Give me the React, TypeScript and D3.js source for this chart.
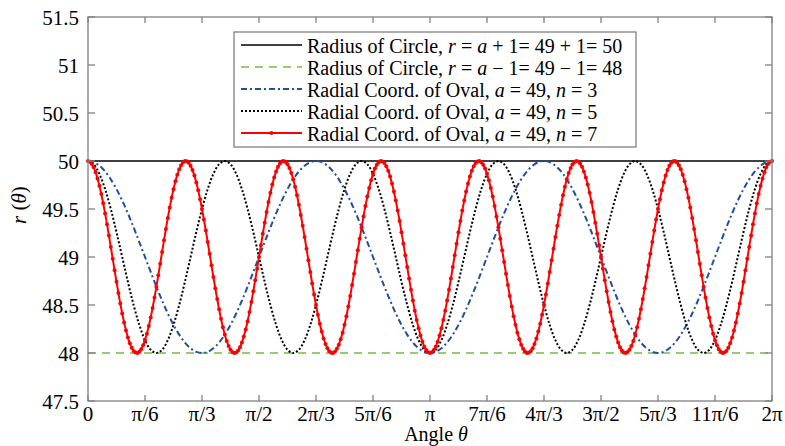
import React from 'react';
import * as d3 from 'd3';

// sample spacing of the curves, in degrees of theta
const RED_STEP = 1;
const OVAL_STEP = 3;

// r(theta), a = 49
const circleAngles = [0, 360];
const outerCircle = [50, 50];
const innerCircle = [48, 48];

const ovalN3 = [
  50.000, 49.988, 49.951, 49.891, 49.809, 49.707, 49.588, 49.454, 49.309, 49.156,
  49.000, 48.844, 48.691, 48.546, 48.412, 48.293, 48.191, 48.109, 48.049, 48.012,
  48.000, 48.012, 48.049, 48.109, 48.191, 48.293, 48.412, 48.546, 48.691, 48.844,
  49.000, 49.156, 49.309, 49.454, 49.588, 49.707, 49.809, 49.891, 49.951, 49.988,
  50.000, 49.988, 49.951, 49.891, 49.809, 49.707, 49.588, 49.454, 49.309, 49.156,
  49.000, 48.844, 48.691, 48.546, 48.412, 48.293, 48.191, 48.109, 48.049, 48.012,
  48.000, 48.012, 48.049, 48.109, 48.191, 48.293, 48.412, 48.546, 48.691, 48.844,
  49.000, 49.156, 49.309, 49.454, 49.588, 49.707, 49.809, 49.891, 49.951, 49.988,
  50.000, 49.988, 49.951, 49.891, 49.809, 49.707, 49.588, 49.454, 49.309, 49.156,
  49.000, 48.844, 48.691, 48.546, 48.412, 48.293, 48.191, 48.109, 48.049, 48.012,
  48.000, 48.012, 48.049, 48.109, 48.191, 48.293, 48.412, 48.546, 48.691, 48.844,
  49.000, 49.156, 49.309, 49.454, 49.588, 49.707, 49.809, 49.891, 49.951, 49.988,
  50.000,
];

const ovalN5 = [
  50.000, 49.966, 49.866, 49.707, 49.500, 49.259, 49.000, 48.741, 48.500, 48.293, 48.134, 48.034,
  48.000, 48.034, 48.134, 48.293, 48.500, 48.741, 49.000, 49.259, 49.500, 49.707, 49.866, 49.966,
  50.000, 49.966, 49.866, 49.707, 49.500, 49.259, 49.000, 48.741, 48.500, 48.293, 48.134, 48.034,
  48.000, 48.034, 48.134, 48.293, 48.500, 48.741, 49.000, 49.259, 49.500, 49.707, 49.866, 49.966,
  50.000, 49.966, 49.866, 49.707, 49.500, 49.259, 49.000, 48.741, 48.500, 48.293, 48.134, 48.034,
  48.000, 48.034, 48.134, 48.293, 48.500, 48.741, 49.000, 49.259, 49.500, 49.707, 49.866, 49.966,
  50.000, 49.966, 49.866, 49.707, 49.500, 49.259, 49.000, 48.741, 48.500, 48.293, 48.134, 48.034,
  48.000, 48.034, 48.134, 48.293, 48.500, 48.741, 49.000, 49.259, 49.500, 49.707, 49.866, 49.966,
  50.000, 49.966, 49.866, 49.707, 49.500, 49.259, 49.000, 48.741, 48.500, 48.293, 48.134, 48.034,
  48.000, 48.034, 48.134, 48.293, 48.500, 48.741, 49.000, 49.259, 49.500, 49.707, 49.866, 49.966,
  50.000,
];

const ovalN7 = [
  50.000, 49.993, 49.970, 49.934, 49.883, 49.819, 49.743, 49.656, 49.559, 49.454,
  49.342, 49.225, 49.105, 48.983, 48.861, 48.741, 48.625, 48.515, 48.412, 48.318,
  48.234, 48.161, 48.101, 48.054, 48.022, 48.004, 48.001, 48.012, 48.039, 48.080,
  48.134, 48.201, 48.281, 48.371, 48.470, 48.577, 48.691, 48.809, 48.930, 49.052,
  49.174, 49.292, 49.407, 49.515, 49.616, 49.707, 49.788, 49.857, 49.914, 49.956,
  49.985, 49.999, 49.998, 49.982, 49.951, 49.906, 49.848, 49.777, 49.695, 49.602,
  49.500, 49.391, 49.276, 49.156, 49.035, 48.913, 48.792, 48.674, 48.562, 48.455,
  48.357, 48.269, 48.191, 48.125, 48.073, 48.034, 48.010, 48.000, 48.005, 48.026,
  48.060, 48.109, 48.171, 48.245, 48.331, 48.426, 48.531, 48.642, 48.758, 48.878,
  49.000, 49.122, 49.242, 49.358, 49.469, 49.574, 49.669, 49.755, 49.829, 49.891,
  49.940, 49.974, 49.995, 50.000, 49.990, 49.966, 49.927, 49.875, 49.809, 49.731,
  49.643, 49.545, 49.438, 49.326, 49.208, 49.087, 48.965, 48.844, 48.724, 48.609,
  48.500, 48.398, 48.305, 48.223, 48.152, 48.094, 48.049, 48.018, 48.002, 48.001,
  48.015, 48.044, 48.087, 48.143, 48.212, 48.293, 48.384, 48.485, 48.593, 48.708,
  48.826, 48.948, 49.070, 49.191, 49.309, 49.423, 49.530, 49.629, 49.719, 49.799,
  49.866, 49.921, 49.961, 49.988, 49.999, 49.996, 49.978, 49.946, 49.899, 49.839,
  49.766, 49.682, 49.588, 49.485, 49.375, 49.259, 49.139, 49.017, 48.896, 48.775,
  48.658, 48.546, 48.441, 48.344, 48.257, 48.181, 48.117, 48.066, 48.030, 48.008,
  48.000,
  48.008, 48.030, 48.066, 48.117, 48.181, 48.257, 48.344, 48.441, 48.546, 48.658,
  48.775, 48.896, 49.017, 49.139, 49.259, 49.375, 49.485, 49.588, 49.682, 49.766,
  49.839, 49.899, 49.946, 49.978, 49.996, 49.999, 49.988, 49.961, 49.921, 49.866,
  49.799, 49.719, 49.629, 49.530, 49.423, 49.309, 49.191, 49.070, 48.948, 48.826,
  48.708, 48.593, 48.485, 48.384, 48.293, 48.212, 48.143, 48.087, 48.044, 48.015,
  48.001, 48.002, 48.018, 48.049, 48.094, 48.152, 48.223, 48.305, 48.398, 48.500,
  48.609, 48.724, 48.844, 48.965, 49.087, 49.208, 49.326, 49.438, 49.545, 49.643,
  49.731, 49.809, 49.875, 49.927, 49.966, 49.990, 50.000, 49.995, 49.974, 49.940,
  49.891, 49.829, 49.755, 49.669, 49.574, 49.469, 49.358, 49.242, 49.122, 49.000,
  48.878, 48.758, 48.642, 48.531, 48.426, 48.331, 48.245, 48.171, 48.109, 48.060,
  48.026, 48.005, 48.000, 48.010, 48.034, 48.073, 48.125, 48.191, 48.269, 48.357,
  48.455, 48.562, 48.674, 48.792, 48.913, 49.035, 49.156, 49.276, 49.391, 49.500,
  49.602, 49.695, 49.777, 49.848, 49.906, 49.951, 49.982, 49.998, 49.999, 49.985,
  49.956, 49.914, 49.857, 49.788, 49.707, 49.616, 49.515, 49.407, 49.292, 49.174,
  49.052, 48.930, 48.809, 48.691, 48.577, 48.470, 48.371, 48.281, 48.201, 48.134,
  48.080, 48.039, 48.012, 48.001, 48.004, 48.022, 48.054, 48.101, 48.161, 48.234,
  48.318, 48.412, 48.515, 48.625, 48.741, 48.861, 48.983, 49.105, 49.225, 49.342,
  49.454, 49.559, 49.656, 49.743, 49.819, 49.883, 49.934, 49.970, 49.993, 50.000,
];

const xTickAngles = [0, 30, 60, 90, 120, 150, 180, 210, 240, 270, 300, 330, 360];
const xTickLabels = ['0', 'π/6', 'π/3', 'π/2', '2π/3', '5π/6', 'π', '7π/6', '4π/3', '3π/2', '5π/3', '11π/6', '2π'];
const yTicks = [47.5, 48, 48.5, 49, 49.5, 50, 50.5, 51, 51.5];

// legend text, [text, italic]
const legendLabels: [string, boolean][][] = [
  [['Radius of Circle, ', false], ['r', true], [' = ', false], ['a', true], [' + 1= 49 + 1= 50', false]],
  [['Radius of Circle, ', false], ['r', true], [' = ', false], ['a', true], [' − 1= 49 − 1= 48', false]],
  [['Radial Coord. of Oval, ', false], ['a', true], [' = 49, ', false], ['n', true], [' = 3', false]],
  [['Radial Coord. of Oval, ', false], ['a', true], [' = 49, ', false], ['n', true], [' = 5', false]],
  [['Radial Coord. of Oval, ', false], ['a', true], [' = 49, ', false], ['n', true], [' = 7', false]],
];

const W = 785;
const H = 446;
const plot = { left: 88, right: 772, top: 17, bottom: 401 };

const styles = [
  { stroke: '#000000', width: 1.5, dash: '' },
  { stroke: '#77bc44', width: 1.5, dash: '8,6' },
  { stroke: '#1f4fa3', width: 2, dash: '6,3,2,3' },
  { stroke: '#000000', width: 2, dash: '2,2' },
  { stroke: '#ff0000', width: 2, dash: '' },
];

const serif = { fontFamily: '"Liberation Serif", "Times New Roman", Times, serif' };

export default function App() {
  const x = d3.scaleLinear().domain([0, 360]).range([plot.left, plot.right]);
  const y = d3.scaleLinear().domain([47.5, 51.5]).range([plot.bottom, plot.top]);

  const flat = d3.line<number>().x((_, i) => x(circleAngles[i])).y((d) => y(d));
  const smooth = d3
    .line<number>()
    .x((_, i) => x(i * OVAL_STEP))
    .y((d) => y(d))
    .curve(d3.curveCatmullRom.alpha(0.5));
  const red = d3.line<number>().x((_, i) => x(i * RED_STEP)).y((d) => y(d));

  const axisColor = '#808080';
  const legend = { x: 234, y: 32, w: 402, h: 115, row: 22 };

  return (
    <svg width={W} height={H} style={{ position: 'absolute', left: 0, top: 0 }}>
      <rect x={0} y={0} width={W} height={H} fill="#fff" />

      <path d={flat(outerCircle) || ''} fill="none" stroke={styles[0].stroke} strokeWidth={styles[0].width} />
      <path d={flat(innerCircle) || ''} fill="none" stroke={styles[1].stroke} strokeWidth={styles[1].width} strokeDasharray={styles[1].dash} />
      <path d={smooth(ovalN3) || ''} fill="none" stroke={styles[2].stroke} strokeWidth={styles[2].width} strokeDasharray={styles[2].dash} />
      <path d={smooth(ovalN5) || ''} fill="none" stroke={styles[3].stroke} strokeWidth={styles[3].width} strokeDasharray={styles[3].dash} />
      <path d={red(ovalN7) || ''} fill="none" stroke={styles[4].stroke} strokeWidth={styles[4].width} />
      {ovalN7.map((d, i) => (
        <circle key={i} cx={x(i * RED_STEP)} cy={y(d)} r={2} fill={styles[4].stroke} />
      ))}

      {/* axes box */}
      <rect
        x={plot.left}
        y={plot.top}
        width={plot.right - plot.left}
        height={plot.bottom - plot.top}
        fill="none"
        stroke={axisColor}
        strokeWidth={1.3}
      />
      {xTickAngles.map((a, i) => (
        <g key={'x' + i}>
          <line x1={x(a)} x2={x(a)} y1={plot.bottom} y2={plot.bottom - 6} stroke={axisColor} strokeWidth={1.3} />
          <line x1={x(a)} x2={x(a)} y1={plot.top} y2={plot.top + 6} stroke={axisColor} strokeWidth={1.3} />
          <text x={x(a)} y={421} textAnchor="middle" fontSize={21} fill="#000" style={serif}>
            {xTickLabels[i]}
          </text>
        </g>
      ))}
      {yTicks.map((t, i) => (
        <g key={'y' + i}>
          <line x1={plot.left} x2={plot.left + 7} y1={y(t)} y2={y(t)} stroke={axisColor} strokeWidth={1.3} />
          <line x1={plot.right} x2={plot.right - 7} y1={y(t)} y2={y(t)} stroke={axisColor} strokeWidth={1.3} />
          <text x={79} y={y(t) + 7.5} textAnchor="end" fontSize={21} fill="#000" style={serif}>
            {t}
          </text>
        </g>
      ))}

      <text x={436} y={441} textAnchor="middle" fontSize={20} fill="#000" style={serif}>
        Angle <tspan fontStyle="italic">θ</tspan>
      </text>
      <text transform="translate(26,205) rotate(-90)" textAnchor="middle" fontSize={21} fill="#000" style={serif}>
        <tspan fontStyle="italic">r</tspan> (<tspan fontStyle="italic">θ</tspan>)
      </text>

      {/* legend */}
      <rect x={legend.x} y={legend.y} width={legend.w} height={legend.h} fill="#fff" stroke={axisColor} strokeWidth={1.3} />
      {legendLabels.map((parts, i) => {
        const cy = legend.y + 13 + i * legend.row;
        const s = styles[i];
        return (
          <g key={'l' + i}>
            <line x1={241} x2={302} y1={cy} y2={cy} stroke={s.stroke} strokeWidth={s.width} strokeDasharray={s.dash} />
            {i === 4 && <circle cx={271.5} cy={cy} r={2} fill={s.stroke} />}
            <text x={307} y={cy + 7.5} fontSize={20} fill="#000" style={serif}>
              {parts.map(([t, it], j) => (
                <tspan key={j} fontStyle={it ? 'italic' : 'normal'}>
                  {t}
                </tspan>
              ))}
            </text>
          </g>
        );
      })}
    </svg>
  );
}
